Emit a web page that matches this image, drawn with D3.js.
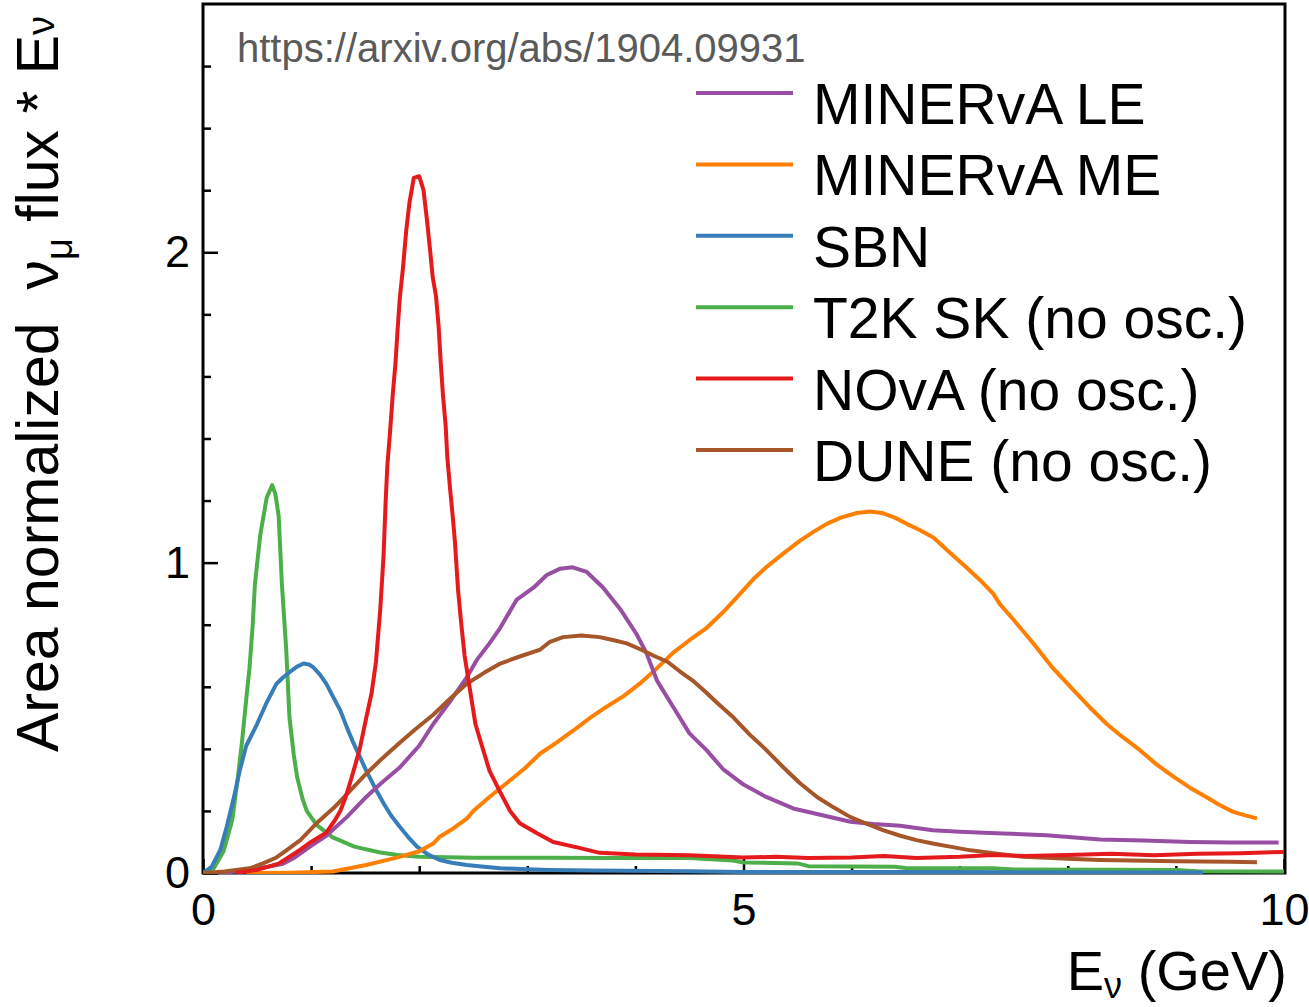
<!DOCTYPE html>
<html>
<head>
<meta charset="utf-8">
<script src="https://cdn.jsdelivr.net/npm/d3@7"></script>
<style>
  body { margin: 0; background: #fff; }
  text { font-family: "Liberation Sans", Arial, Helvetica, sans-serif; }
</style>
</head>
<body>
<div id="chart"></div>
<script>
// digitised [E (GeV), area-normalised flux * E] points
const minervaLE = [[0.16,0],[0.4,0.008],[0.6,0.02],[0.74,0.03],[0.85,0.05],[0.99,0.085],[1.14,0.12],[1.33,0.18],[1.51,0.245],[1.65,0.29],[1.82,0.34],[2.0,0.41],[2.13,0.48],[2.3,0.56],[2.44,0.63],[2.53,0.685],[2.65,0.74],[2.75,0.79],[2.9,0.88],[3.06,0.92],[3.18,0.96],[3.3,0.98],[3.42,0.985],[3.55,0.97],[3.7,0.92],[3.86,0.85],[4.01,0.77],[4.1,0.71],[4.2,0.62],[4.35,0.535],[4.5,0.45],[4.66,0.395],[4.81,0.335],[5.0,0.285],[5.21,0.245],[5.46,0.208],[5.68,0.19],[5.99,0.165],[6.2,0.158],[6.45,0.152],[6.75,0.138],[7.0,0.133],[7.34,0.128],[7.8,0.122],[8.3,0.108],[8.7,0.105],[9.13,0.1],[9.5,0.098],[9.95,0.098]];

const minervaME = [[0.4,0],[0.8,0.001],[1.2,0.005],[1.51,0.026],[1.82,0.052],[2.0,0.07],[2.13,0.095],[2.19,0.117],[2.3,0.14],[2.44,0.175],[2.5,0.2],[2.65,0.245],[2.81,0.29],[2.97,0.335],[3.12,0.385],[3.27,0.42],[3.43,0.46],[3.58,0.5],[3.73,0.535],[3.89,0.57],[4.04,0.61],[4.2,0.66],[4.35,0.71],[4.5,0.75],[4.66,0.79],[4.81,0.84],[4.97,0.9],[5.1,0.95],[5.21,0.985],[5.37,1.03],[5.52,1.07],[5.65,1.1],[5.77,1.125],[5.9,1.145],[6.05,1.16],[6.17,1.165],[6.28,1.16],[6.4,1.145],[6.51,1.125],[6.63,1.105],[6.76,1.08],[6.9,1.035],[7.06,0.985],[7.2,0.94],[7.31,0.9],[7.37,0.867],[7.5,0.815],[7.68,0.74],[7.85,0.665],[8.05,0.59],[8.2,0.535],[8.36,0.48],[8.5,0.44],[8.67,0.395],[8.82,0.35],[8.98,0.31],[9.13,0.275],[9.28,0.245],[9.4,0.22],[9.53,0.197],[9.65,0.185],[9.75,0.176]];

const sbn = [[0,0],[0.08,0.02],[0.16,0.074],[0.22,0.15],[0.28,0.235],[0.34,0.33],[0.4,0.41],[0.5,0.48],[0.59,0.55],[0.68,0.61],[0.74,0.63],[0.8,0.647],[0.87,0.665],[0.93,0.675],[0.98,0.672],[1.02,0.663],[1.08,0.64],[1.14,0.61],[1.2,0.57],[1.27,0.524],[1.33,0.47],[1.39,0.42],[1.45,0.375],[1.51,0.33],[1.59,0.275],[1.67,0.225],[1.74,0.185],[1.82,0.149],[1.9,0.115],[1.98,0.085],[2.08,0.06],[2.19,0.042],[2.3,0.033],[2.44,0.026],[2.6,0.02],[2.75,0.015],[3.0,0.012],[3.2,0.01],[3.6,0.008],[4.5,0.006],[5.0,0.003],[7.0,0.003],[9.25,0.002]];

const t2k = [[0,0],[0.1,0.015],[0.19,0.07],[0.27,0.17],[0.32,0.3],[0.36,0.42],[0.4,0.56],[0.43,0.66],[0.46,0.8],[0.48,0.93],[0.53,1.09],[0.59,1.21],[0.64,1.25],[0.67,1.22],[0.7,1.15],[0.73,0.93],[0.77,0.72],[0.8,0.5],[0.84,0.38],[0.87,0.31],[0.92,0.24],[0.96,0.2],[1.05,0.155],[1.2,0.115],[1.4,0.085],[1.64,0.066],[1.8,0.058],[2.0,0.052],[2.5,0.049],[3.2,0.049],[3.8,0.048],[4.5,0.048],[4.9,0.04],[5.0,0.034],[5.5,0.031],[5.6,0.022],[6.4,0.02],[6.5,0.016],[7.3,0.015],[7.5,0.011],[9.0,0.01],[9.2,0.006],[10,0.005]];

const nova = [[0.3,0],[0.5,0.01],[0.7,0.03],[0.9,0.075],[1.0,0.1],[1.14,0.13],[1.22,0.17],[1.27,0.2],[1.32,0.245],[1.36,0.29],[1.41,0.35],[1.45,0.4],[1.51,0.5],[1.56,0.58],[1.6,0.68],[1.64,0.85],[1.67,1.02],[1.69,1.2],[1.705,1.31],[1.73,1.42],[1.755,1.54],[1.78,1.64],[1.8,1.75],[1.82,1.85],[1.85,1.95],[1.88,2.07],[1.91,2.16],[1.95,2.24],[2.0,2.245],[2.04,2.2],[2.07,2.11],[2.1,2.01],[2.125,1.92],[2.155,1.86],[2.18,1.76],[2.2,1.64],[2.22,1.54],[2.245,1.44],[2.26,1.34],[2.285,1.24],[2.31,1.15],[2.33,1.07],[2.36,0.91],[2.39,0.8],[2.42,0.7],[2.47,0.59],[2.52,0.48],[2.58,0.41],[2.65,0.33],[2.75,0.26],[2.84,0.2],[2.93,0.16],[3.09,0.128],[3.24,0.1],[3.49,0.08],[3.67,0.065],[4.0,0.06],[4.5,0.057],[5.0,0.05],[5.3,0.052],[5.6,0.048],[6.0,0.05],[6.3,0.055],[6.6,0.048],[7.0,0.052],[7.3,0.058],[7.6,0.055],[8.0,0.058],[8.4,0.062],[8.8,0.057],[9.2,0.062],[9.6,0.064],[10,0.068]];

const dune = [[0,0],[0.2,0.005],[0.43,0.015],[0.55,0.03],[0.68,0.05],[0.8,0.08],[0.9,0.106],[1.05,0.16],[1.21,0.21],[1.36,0.265],[1.51,0.32],[1.66,0.37],[1.82,0.42],[1.97,0.465],[2.13,0.51],[2.28,0.56],[2.44,0.61],[2.6,0.645],[2.75,0.675],[2.95,0.7],[3.12,0.72],[3.21,0.745],[3.33,0.76],[3.5,0.765],[3.67,0.76],[3.8,0.75],[3.92,0.74],[4.05,0.72],[4.17,0.7],[4.3,0.68],[4.41,0.65],[4.53,0.62],[4.66,0.58],[4.75,0.55],[4.91,0.5],[5.06,0.445],[5.2,0.4],[5.37,0.34],[5.52,0.29],[5.68,0.245],[5.84,0.21],[5.99,0.18],[6.15,0.157],[6.29,0.138],[6.45,0.12],[6.6,0.106],[6.75,0.095],[6.91,0.085],[7.1,0.073],[7.31,0.064],[7.59,0.052],[8.0,0.046],[8.3,0.042],[9.0,0.038],[9.5,0.036],[9.75,0.035]];

const seriesNames = ["MINERvA LE", "MINERvA ME", "SBN", "T2K SK (no osc.)", "NOvA (no osc.)", "DUNE (no osc.)"];
const seriesData = [minervaLE, minervaME, sbn, t2k, nova, dune];
const seriesColors = ["#984ea3", "#ff7f00", "#377eb8", "#4daf4a", "#e41a1c", "#a65628"];
// drawing order: later ones on top
const drawOrder = [3, 2, 1, 0, 5, 4];

const xMajor = [0, 5, 10];
const xMinor = [1, 2, 3, 4, 6, 7, 8, 9];
const yMajor = [0, 1, 2];
const yMinor = [0.2, 0.4, 0.6, 0.8, 1.2, 1.4, 1.6, 1.8, 2.2, 2.4, 2.6];

const W = 1309, H = 1007;
const pl = 203, pr = 1284, pt = 4, pb = 873;

const svg = d3.select("#chart").append("svg")
    .attr("width", W).attr("height", H);

const x = d3.scaleLinear().domain([0, 10]).range([pl, pr]);
const y = d3.scaleLinear().domain([0, 2.8]).range([pb, pt]);

// ticks point inward, ROOT style
const gx = svg.append("g").attr("transform", `translate(0,${pb})`);
gx.append("g").call(d3.axisBottom(x).tickValues(xMinor).tickSize(-7).tickFormat(""));
gx.append("g").call(d3.axisBottom(x).tickValues(xMajor).tickSize(-14).tickPadding(20).tickFormat(d3.format("d")));
const gy = svg.append("g").attr("transform", `translate(${pl},0)`);
gy.append("g").call(d3.axisLeft(y).tickValues(yMinor).tickSize(-8).tickFormat(""));
gy.append("g").call(d3.axisLeft(y).tickValues(yMajor).tickSize(-15).tickPadding(13).tickFormat(d3.format("d")));

svg.selectAll(".domain").remove();
svg.selectAll(".tick line").attr("stroke", "#000").attr("stroke-width", 2.5);
svg.selectAll(".tick text")
    .style("font-family", "'Liberation Sans', Arial, sans-serif")
    .style("font-size", "45px")
    .attr("fill", "#000");

// frame
svg.append("rect")
    .attr("x", pl).attr("y", pt)
    .attr("width", pr - pl + 1).attr("height", pb - pt)
    .attr("fill", "none").attr("stroke", "#000").attr("stroke-width", 3);

svg.append("clipPath").attr("id", "plotclip")
  .append("rect").attr("x", pl).attr("y", pt - 2)
    .attr("width", pr - pl + 2).attr("height", pb - pt + 3);

const line = d3.line()
    .x(d => x(d[0]))
    .y(d => y(d[1]))
    .curve(d3.curveLinear);

svg.append("g").attr("clip-path", "url(#plotclip)")
  .selectAll("path")
  .data(drawOrder)
  .join("path")
    .attr("d", i => line(seriesData[i]))
    .attr("fill", "none")
    .attr("stroke", i => seriesColors[i])
    .attr("stroke-width", 4)
    .attr("stroke-linejoin", "round");

// url note
svg.append("text")
    .attr("x", 237).attr("y", 62)
    .style("font-size", "40px")
    .attr("fill", "#5a5a5a")
    .text("https://arxiv.org/abs/1904.09931");

// legend
const leg = svg.append("g");
seriesNames.forEach((name, i) => {
    const ly = 93 + i * 71.4;
    leg.append("line")
        .attr("x1", 696).attr("x2", 793)
        .attr("y1", ly).attr("y2", ly)
        .attr("stroke", seriesColors[i]).attr("stroke-width", 4);
    leg.append("text")
        .attr("x", 813).attr("y", ly + 31)
        .style("font-size", "57px")
        .attr("fill", "#000")
        .text(name);
});

// axis titles
const xt = svg.append("text")
    .attr("x", 1287).attr("y", 990)
    .attr("text-anchor", "end")
    .style("font-size", "56px")
    .style("white-space", "pre");
xt.append("tspan").text("E");
xt.append("tspan").attr("dy", 8).style("font-size", "36px").text("ν");
xt.append("tspan").attr("dy", -8).text(" (GeV)");

const yt = svg.append("text")
    .attr("transform", "translate(58,752) rotate(-90)")
    .style("font-size", "59px")
    .style("white-space", "pre");
yt.append("tspan").text("Area normalized  ν");
yt.append("tspan").attr("dy", 14).style("font-size", "38px").text("μ");
yt.append("tspan").attr("dy", -14).text(" flux * E");
yt.append("tspan").attr("dy", -4).style("font-size", "38px").text("ν");
</script>
</body>
</html>
